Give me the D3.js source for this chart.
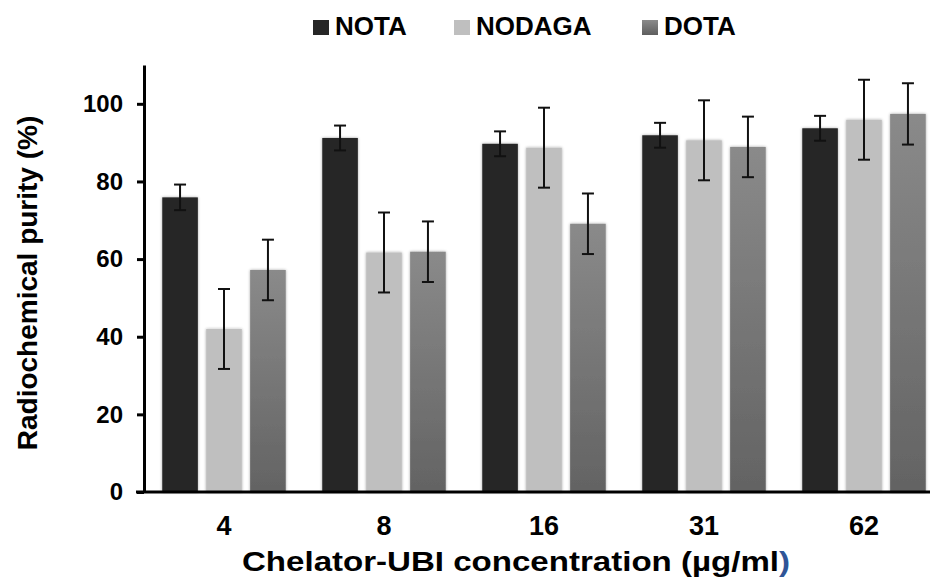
<!DOCTYPE html>
<html>
<head>
<meta charset="utf-8">
<script src="https://cdn.jsdelivr.net/npm/d3@7"></script>
<style>
  html, body { margin: 0; padding: 0; background: #fff; }
  svg { display: block; }
</style>
</head>
<body>
<svg id="chart" width="930" height="581"></svg>
<script>
// Chelator-UBI concentration groups (µg/ml)
const concentrations = ["4", "8", "16", "31", "62"];
const chelators = ["NOTA", "NODAGA", "DOTA"];

// Mean radiochemical purity (%) per chelator, one value per concentration
const notaMean   = [75.9, 91.2, 89.7, 91.9, 93.7];
const nodagaMean = [42.0, 61.7, 88.7, 90.6, 95.9];
const dotaMean   = [57.2, 61.9, 69.1, 88.9, 97.4];

// Error (± SD) per chelator
const notaErr   = [3.3, 3.2, 3.2, 3.2, 3.2];
const nodagaErr = [10.3, 10.3, 10.3, 10.3, 10.3];
const dotaErr   = [7.8, 7.8, 7.8, 7.8, 7.9];

const yTicks = [0, 20, 40, 60, 80, 100];

const means = { NOTA: notaMean, NODAGA: nodagaMean, DOTA: dotaMean };
const errs  = { NOTA: notaErr,  NODAGA: nodagaErr,  DOTA: dotaErr };

const rows = [];
concentrations.forEach((c, i) => {
  chelators.forEach(s => rows.push({ conc: c, series: s, value: means[s][i], err: errs[s][i] }));
});

const FONT = "Arial, 'Liberation Sans', sans-serif";

const svg = d3.select("#chart");
const defs = svg.append("defs");

// DOTA bars fade from mid-grey at the top to a darker grey at the base
const grad = defs.append("linearGradient")
  .attr("id", "dotaGrad").attr("x1", 0).attr("y1", 0).attr("x2", 0).attr("y2", 1);
grad.append("stop").attr("offset", "0%").attr("stop-color", "#8a8a8a");
grad.append("stop").attr("offset", "100%").attr("stop-color", "#636363");

const legGrad = defs.append("linearGradient")
  .attr("id", "dotaLegGrad").attr("x1", 0).attr("y1", 0).attr("x2", 0).attr("y2", 1);
legGrad.append("stop").attr("offset", "0%").attr("stop-color", "#8a8a8a");
legGrad.append("stop").attr("offset", "100%").attr("stop-color", "#5e5e5e");

// soft halo around each bar
const shadow = defs.append("filter").attr("id", "barShadow")
  .attr("x", "-20%").attr("y", "-5%").attr("width", "140%").attr("height", "110%");
shadow.append("feGaussianBlur").attr("in", "SourceAlpha").attr("stdDeviation", 1.6).attr("result", "blur");
shadow.append("feComponentTransfer").attr("in", "blur").attr("result", "faint")
  .append("feFuncA").attr("type", "linear").attr("slope", 0.35);
const merge = shadow.append("feMerge");
merge.append("feMergeNode").attr("in", "faint");
merge.append("feMergeNode").attr("in", "SourceGraphic");

const fills = { NOTA: "#262626", NODAGA: "#bfbfbf", DOTA: "url(#dotaGrad)" };
const legendFills = { NOTA: "#262626", NODAGA: "#bfbfbf", DOTA: "url(#dotaLegGrad)" };

// scales
const x0 = d3.scaleBand().domain(concentrations).range([144, 944]).padding(0);
const x1 = d3.scaleBand().domain(chelators).range([18.25, 141.75]).paddingInner(0.19).paddingOuter(0);
const y = d3.scaleLinear().domain([0, 110]).range([492, 65]);

// bars
const bars = svg.append("g").attr("filter", "url(#barShadow)");
bars.selectAll("rect").data(rows).join("rect")
  .attr("x", d => x0(d.conc) + x1(d.series))
  .attr("y", d => y(d.value))
  .attr("width", x1.bandwidth())
  .attr("height", d => y(0) - y(d.value))
  .attr("fill", d => fills[d.series]);

// error bars
const capHalf = 6;
const eb = svg.append("g").attr("stroke", "#111").attr("stroke-width", 2).attr("fill", "none");
rows.forEach(d => {
  const cx = x0(d.conc) + x1(d.series) + x1.bandwidth() / 2;
  const yTop = y(d.value + d.err), yBot = y(d.value - d.err);
  eb.append("line").attr("x1", cx).attr("x2", cx).attr("y1", yTop).attr("y2", yBot);
  eb.append("line").attr("x1", cx - capHalf).attr("x2", cx + capHalf).attr("y1", yTop).attr("y2", yTop);
  eb.append("line").attr("x1", cx - capHalf).attr("x2", cx + capHalf).attr("y1", yBot).attr("y2", yBot);
});

// y axis
const yAxis = svg.append("g").attr("transform", "translate(144,0)")
  .call(d3.axisLeft(y).tickValues(yTicks).tickSize(7).tickPadding(14).tickSizeOuter(0));
yAxis.select(".domain").attr("stroke", "#000").attr("stroke-width", 3);
yAxis.selectAll(".tick line").attr("stroke", "#000").attr("stroke-width", 3);
yAxis.selectAll(".tick text")
  .attr("fill", "#000")
  .style("font-family", FONT)
  .style("font-weight", "bold")
  .style("font-size", "24px");

// x axis baseline and category labels
const xAxis = svg.append("g").attr("transform", "translate(0,492)")
  .call(d3.axisBottom(x0).tickSize(0).tickPadding(24));
xAxis.select(".domain").remove();
xAxis.append("line").attr("x1", 136).attr("x2", 930).attr("y1", 0).attr("y2", 0)
  .attr("stroke", "#000").attr("stroke-width", 3);
xAxis.selectAll(".tick text")
  .attr("fill", "#000")
  .style("font-family", FONT)
  .style("font-weight", "bold")
  .style("font-size", "27px");

// axis titles
svg.append("text")
  .attr("transform", "translate(37,283) rotate(-90)")
  .attr("text-anchor", "middle")
  .style("font-family", FONT)
  .style("font-weight", "bold")
  .style("font-size", "28px")
  .attr("fill", "#000")
  .text("Radiochemical purity (%)");

const xTitle = svg.append("text")
  .attr("x", 516).attr("y", 571)
  .attr("text-anchor", "middle")
  .attr("textLength", 548)
  .attr("lengthAdjust", "spacingAndGlyphs")
  .style("font-family", FONT)
  .style("font-weight", "bold")
  .style("font-size", "28px")
  .attr("fill", "#000");
xTitle.append("tspan").text("Chelator-UBI concentration (µg/ml");
xTitle.append("tspan").attr("fill", "#2f5597").text(")");

// legend
const legendX = [313, 454, 642];
const legend = svg.append("g");
chelators.forEach((s, i) => {
  const g = legend.append("g").attr("transform", `translate(${legendX[i]},0)`);
  g.append("rect").attr("x", 0).attr("y", 20).attr("width", 16).attr("height", 15).attr("fill", legendFills[s]);
  g.append("text").attr("x", 22).attr("y", 35)
    .style("font-family", FONT)
    .style("font-weight", "bold")
    .style("font-size", "26px")
    .attr("fill", "#000")
    .text(s);
});
</script>
</body>
</html>
